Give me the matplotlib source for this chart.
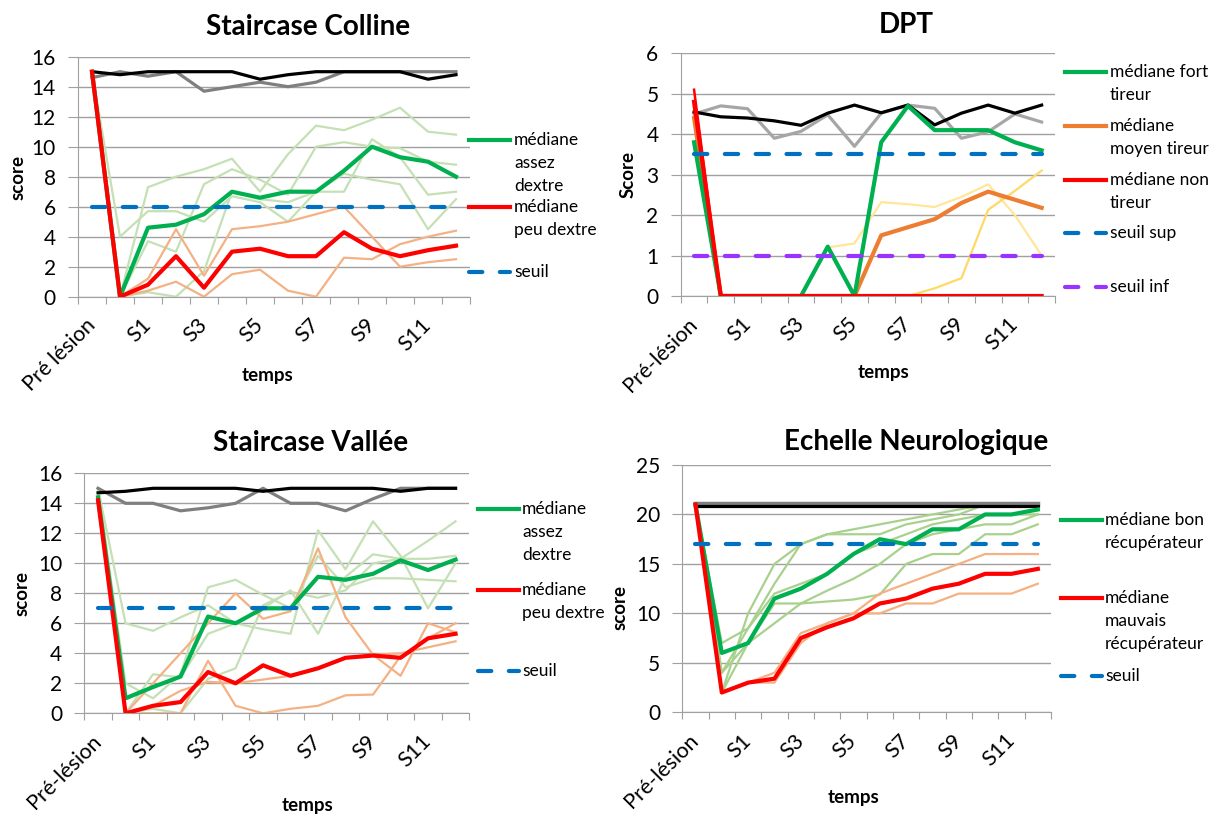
"""
Quatre graphiques de suivi des scores (Staircase, DPT, echelle neurologique)
"""

import matplotlib.pyplot as plt
import numpy as np
from matplotlib.lines import Line2D

plt.rcParams['font.family'] = ['Lato', 'DejaVu Sans']

W, H = 1209, 817   # taille de l'image en pixels

temps = ['Pré lésion', 'S0', 'S1', 'S2', 'S3', 'S4', 'S5', 'S6',
         'S7', 'S8', 'S9', 'S10', 'S11', 'S12']
temps_tiret = ['Pré-lésion'] + temps[1:]

# ---- Staircase Colline ----
colline_noir = [15, 14.8, 15, 15, 15, 15, 14.5, 14.8, 15, 15, 15, 15, 14.5, 14.8]
colline_gris = [14.6, 15, 14.7, 15, 13.7, 14, 14.3, 14, 14.3, 15, 15, 15, 15, 15]
colline_med_assez = [15, 0, 4.6, 4.8, 5.5, 7, 6.6, 7, 7, 8.4, 10, 9.3, 9, 8]
colline_med_peu = [15, 0, 0.8, 2.7, 0.6, 3, 3.2, 2.7, 2.7, 4.3, 3.2, 2.7, 3.1, 3.4]
colline_ind_assez = [
    [15, 0, 7.3, 8.0, 8.5, 9.2, 7.0, 9.5, 11.4, 11.1, 11.8, 12.6, 11.0, 10.8],
    [15, 0, 3.7, 3.0, 7.5, 8.5, 7.8, 6.8, 10.0, 10.3, 10.0, 9.9, 9.0, 8.8],
    [15, 4.0, 5.7, 5.7, 5.0, 6.7, 6.3, 5.0, 7.0, 7.0, 10.5, 9.3, 6.8, 7.0],
    [15, 0, 0.3, 0, 1.7, 7.0, 6.5, 6.3, 7.0, 8.2, 7.8, 7.5, 4.5, 6.5],
]
colline_ind_peu = [
    [15, 0, 1.2, 4.5, 1.4, 4.5, 4.7, 5.0, 5.5, 6.0, 4.0, 2.0, 2.3, 2.5],
    [15, 0, 0.4, 1.0, 0, 1.5, 1.8, 0.4, 0, 2.6, 2.5, 3.5, 4.0, 4.4],
]
colline_seuil = 6

# ---- DPT ----
dpt_noir = [4.55, 4.43, 4.4, 4.33, 4.22, 4.52, 4.72, 4.53, 4.72, 4.23, 4.52, 4.72, 4.52, 4.72]
dpt_gris = [4.5, 4.7, 4.63, 3.9, 4.07, 4.48, 3.7, 4.52, 4.72, 4.64, 3.9, 4.06, 4.5, 4.3]
dpt_med_fort = [3.8, 0, 0, 0, 0, 1.22, 0, 3.8, 4.7, 4.1, 4.1, 4.1, 3.8, 3.6]
dpt_med_moyen = [4.4, 0, 0, 0, 0, 0, 0, 1.5, 1.7, 1.9, 2.3, 2.58, 2.38, 2.18]
dpt_med_non = [4.8, 0, 0, 0, 0, 0, 0, 0, 0, 0, 0, 0, 0, 0]
dpt_ind_non = [5.1, 0, 0, 0, 0, 0, 0, 0, 0, 0, 0, 0, 0, 0]
dpt_ind_moyen = [
    [4.4, 0, 0, 0, 0, 1.2, 1.3, 2.32, 2.27, 2.2, 2.45, 2.76, 2.0, 1.0],
    [4.4, 0, 0, 0, 0, 0, 0, 0, 0, 0.19, 0.44, 2.13, 2.6, 3.1],
]
dpt_seuil_sup = 3.5
dpt_seuil_inf = 1

# ---- Staircase Vallee ----
vallee_noir = [14.7, 14.8, 15, 15, 15, 15, 14.8, 15, 15, 15, 15, 14.8, 15, 15]
vallee_gris = [15, 14, 14, 13.5, 13.7, 14, 15, 14, 14, 13.5, 14.3, 15, 15, 15]
vallee_med_assez = [14.4, 1.0, 1.75, 2.45, 6.45, 6.0, 7.0, 7.0, 9.1, 8.9, 9.3, 10.2, 9.55, 10.25]
vallee_med_peu = [14.2, 0, 0.5, 0.75, 2.75, 2.0, 3.2, 2.5, 3.0, 3.7, 3.85, 3.7, 5.0, 5.3]
vallee_ind_assez = [
    [15, 6.0, 5.5, 6.4, 7.2, 6.0, 5.6, 5.3, 12.2, 9.6, 12.8, 10.5, 7.0, 10.0],
    [15, 2.0, 1.0, 2.6, 8.4, 8.9, 7.9, 7.0, 10.5, 8.4, 9.0, 9.0, 8.9, 8.8],
    [15, 0, 2.6, 2.4, 5.3, 6.0, 7.0, 8.2, 5.3, 9.1, 10.6, 10.3, 11.5, 12.8],
    [15, 0, 0.3, 0, 2.3, 3.0, 7.2, 8.1, 7.7, 8.2, 10.0, 10.3, 10.3, 10.5],
]
vallee_ind_peu = [
    [14.2, 0, 2.0, 4.0, 6.0, 8.0, 6.3, 6.8, 11.0, 6.4, 3.9, 2.5, 6.0, 5.4],
    [14.2, 0, 0.5, 1.5, 2.1, 2.0, 2.25, 2.5, 3.0, 3.7, 3.9, 4.0, 4.4, 4.8],
    [14.2, 0, 0, 0, 3.5, 0.5, 0, 0.3, 0.5, 1.2, 1.25, 3.8, 5.0, 6.0],
]
vallee_seuil = 7

# ---- Echelle Neurologique ----
neuro_noir = [20.9, 20.9, 20.9, 20.9, 20.9, 20.9, 20.9, 20.9, 20.9, 20.9, 20.9, 20.9, 20.9, 20.9]
neuro_gris = [21.15, 21.15, 21.15, 21.15, 21.15, 21.15, 21.15, 21.15, 21.15, 21.15, 21.15, 21.15, 21.15, 21.15]
neuro_med_bon = [21, 6.0, 7.0, 11.5, 12.5, 14.0, 16.0, 17.5, 17.0, 18.5, 18.5, 20.0, 20.0, 20.5]
neuro_med_mauvais = [21, 2.0, 3.0, 3.4, 7.5, 8.6, 9.5, 11.0, 11.5, 12.5, 13.0, 14.0, 14.0, 14.5]
neuro_ind_bon = [
    [21, 2.0, 10.0, 15.0, 17.0, 18.0, 18.5, 19.0, 19.5, 20.0, 20.5, 21, 21, 21],
    [21, 4.0, 8.5, 13.0, 17.0, 18.0, 18.0, 18.0, 19.0, 19.5, 20.0, 21, 21, 21],
    [21, 7.0, 8.5, 12.0, 13.0, 14.0, 16.0, 17.0, 18.0, 19.0, 19.5, 20.0, 20.0, 20.0],
    [21, 2.0, 7.0, 9.0, 11.0, 12.3, 13.5, 15.0, 17.0, 18.0, 18.5, 19.0, 19.0, 20.0],
    [21, 4.0, 7.0, 11.0, 11.0, 11.2, 11.4, 11.9, 15.0, 16.0, 16.0, 18.0, 18.0, 19.0],
]
neuro_ind_mauvais = [
    [21, 2.0, 3.0, 4.0, 8.0, 9.0, 10.0, 12.0, 13.0, 14.0, 15.0, 16.0, 16.0, 16.0],
    [21, 2.0, 3.0, 3.0, 7.0, 9.0, 10.0, 10.0, 11.0, 11.0, 12.0, 12.0, 12.0, 13.0],
]
neuro_seuil = 17

# couleurs facon Excel
VERT, ROUGE, BLEU, VIOLET = '#00B050', '#FF0000', '#0070C0', '#9933FF'
ORANGE = '#ED7D31'
GRILLE = '#A0A0A0'

x = np.arange(len(temps))
fig = plt.figure(figsize=(W / 100, H / 100), dpi=100)


def rect(left, top, right, bottom):
    """Convertit un cadre en pixels en coordonnees de figure."""
    return [left / W, 1 - bottom / H, (right - left) / W, (bottom - top) / H]


def panel(box, ymax, ystep, labels):
    ax = fig.add_axes(rect(*box))
    ax.set_xlim(-0.5, len(labels) - 0.5)
    ax.set_ylim(0, ymax)
    ax.set_yticks(np.arange(0, ymax + ystep, ystep))
    ax.yaxis.grid(True, color=GRILLE, linewidth=1)
    ax.set_axisbelow(True)
    for s in ['top', 'right']:
        ax.spines[s].set_visible(False)
    for s in ['left', 'bottom']:
        ax.spines[s].set_color(GRILLE)

    # graduations entre les categories, etiquettes une sur deux
    ax.set_xticks(np.arange(-0.5, len(labels), 1), labels=[])
    ax.set_xticks(x[::2], labels=labels[::2], minor=True)
    ax.tick_params(axis='x', which='major', length=5, color=GRILLE)
    ax.tick_params(axis='x', which='minor', length=0, pad=18, labelsize=15.5)
    ax.tick_params(axis='y', length=7, color=GRILLE, labelsize=15, pad=9)
    for t in ax.get_xticklabels(minor=True):
        t.set_rotation(45)
        t.set_ha('right')
        t.set_va('center')
        t.set_rotation_mode('anchor')
    return ax


def trace(ax, values, color, lw, z):
    ax.plot(x, values, color=color, lw=lw, zorder=z)


def seuil(ax, value, color):
    ax.plot([x[0], x[-1]], [value, value], color=color, lw=3,
            dashes=(3.2, 4.2), dash_capstyle='round', zorder=6)


def legende(entries, x0, x1, xt):
    """Legende dessinee a la main : trait aligne sur la premiere ligne du texte."""
    for y, lines, color, dashed in entries:
        fy = 1 - y / H
        style = dict(dashes=(3.2, 4.2), dash_capstyle='round') if dashed else {}
        fig.add_artist(Line2D([x0 / W, x1 / W], [fy, fy], transform=fig.transFigure,
                              color=color, lw=3, **style))
        for i, t in enumerate(lines):
            fig.text(xt / W, 1 - (y + i * 22.8) / H, t, fontsize=12.5, va='center', ha='left')


def textes(title, tx, ty, ylab, yx, yy, lx, ly):
    fig.text(tx / W, 1 - ty / H, title, fontsize=20, fontweight='bold', ha='center', va='center')
    fig.text(yx / W, 1 - yy / H, ylab, fontsize=13.5, fontweight='bold', rotation=90,
             ha='center', va='center')
    fig.text(lx / W, 1 - ly / H, 'temps', fontsize=13.5, fontweight='bold', ha='center', va='center')


# ---- Staircase Colline ----
ax = panel((78, 56.7, 470, 296.7), 16, 2, temps)
for v in colline_ind_assez:
    trace(ax, v, '#C5E0B4', 1.6, 2)
for v in colline_ind_peu:
    trace(ax, v, '#F4B183', 1.6, 2)
trace(ax, colline_gris, '#7F7F7F', 2.3, 3)
trace(ax, colline_noir, 'black', 2.3, 3)
trace(ax, colline_med_assez, VERT, 3, 4)
trace(ax, colline_med_peu, ROUGE, 3, 5)
seuil(ax, colline_seuil, BLEU)
textes('Staircase Colline', 308, 27, 'score', 18, 177, 267, 376)
legende([(140, ['médiane', 'assez', 'dextre'], VERT, False),
         (207, ['médiane', 'peu dextre'], ROUGE, False),
         (272, ['seuil'], BLEU, True)], 469, 510, 514)

# ---- DPT ----
ax = panel((680.7, 53.3, 1055, 296), 6, 1, temps_tiret)
trace(ax, dpt_ind_moyen[0], '#FFE699', 1.6, 2)
trace(ax, dpt_ind_moyen[1], '#FFD966', 1.6, 2)
trace(ax, dpt_gris, '#A6A6A6', 2.3, 3)
trace(ax, dpt_noir, 'black', 2.3, 3)
trace(ax, dpt_med_moyen, ORANGE, 3, 4)
trace(ax, dpt_med_fort, VERT, 3, 4)
trace(ax, dpt_ind_non, ROUGE, 1.8, 5)
trace(ax, dpt_med_non, ROUGE, 3, 5)
seuil(ax, dpt_seuil_sup, BLEU)
seuil(ax, dpt_seuil_inf, VIOLET)
textes('DPT', 906, 25, 'Score', 628, 175, 883, 373)
legende([(71.7, ['médiane fort', 'tireur'], VERT, False),
         (126, ['médiane', 'moyen tireur'], ORANGE, False),
         (180, ['médiane non', 'tireur'], ROUGE, False),
         (233, ['seuil sup'], BLEU, True),
         (287, ['seuil inf'], VIOLET, True)], 1065, 1106, 1110)

# ---- Staircase Vallee ----
ax = panel((84.3, 473.3, 469.3, 713.3), 16, 2, temps_tiret)
for v in vallee_ind_assez:
    trace(ax, v, '#C5E0B4', 1.6, 2)
for v in vallee_ind_peu:
    trace(ax, v, '#F4B183', 1.6, 2)
trace(ax, vallee_gris, '#7F7F7F', 2.3, 3)
trace(ax, vallee_noir, 'black', 2.3, 3)
trace(ax, vallee_med_assez, VERT, 3, 4)
trace(ax, vallee_med_peu, ROUGE, 3, 5)
seuil(ax, vallee_seuil, BLEU)
textes('Staircase Vallée', 311, 443, 'score', 22, 594, 307, 805)
legende([(509, ['médiane', 'assez', 'dextre'], VERT, False),
         (590, ['médiane', 'peu dextre'], ROUGE, False),
         (671, ['seuil'], BLEU, True)], 478, 519, 522)

# ---- Echelle Neurologique ----
ax = panel((682.3, 465, 1051, 712.3), 25, 5, temps_tiret)
for v in neuro_ind_bon:
    trace(ax, v, '#A9D18E', 1.6, 2)
for v in neuro_ind_mauvais:
    trace(ax, v, '#F4B183', 1.6, 2)
trace(ax, neuro_gris, '#7F7F7F', 2.5, 3)
trace(ax, neuro_noir, 'black', 2.3, 3)
trace(ax, neuro_med_bon, VERT, 3, 4)
trace(ax, neuro_med_mauvais, ROUGE, 3, 5)
seuil(ax, neuro_seuil, BLEU)
textes('Echelle Neurologique', 916, 442, 'score', 620, 607, 853, 798)
legende([(520, ['médiane bon', 'récupérateur'], VERT, False),
         (598, ['médiane', 'mauvais', 'récupérateur'], ROUGE, False),
         (676, ['seuil'], BLEU, True)], 1061, 1102, 1105)

fig.savefig('out.png', dpi=100)
